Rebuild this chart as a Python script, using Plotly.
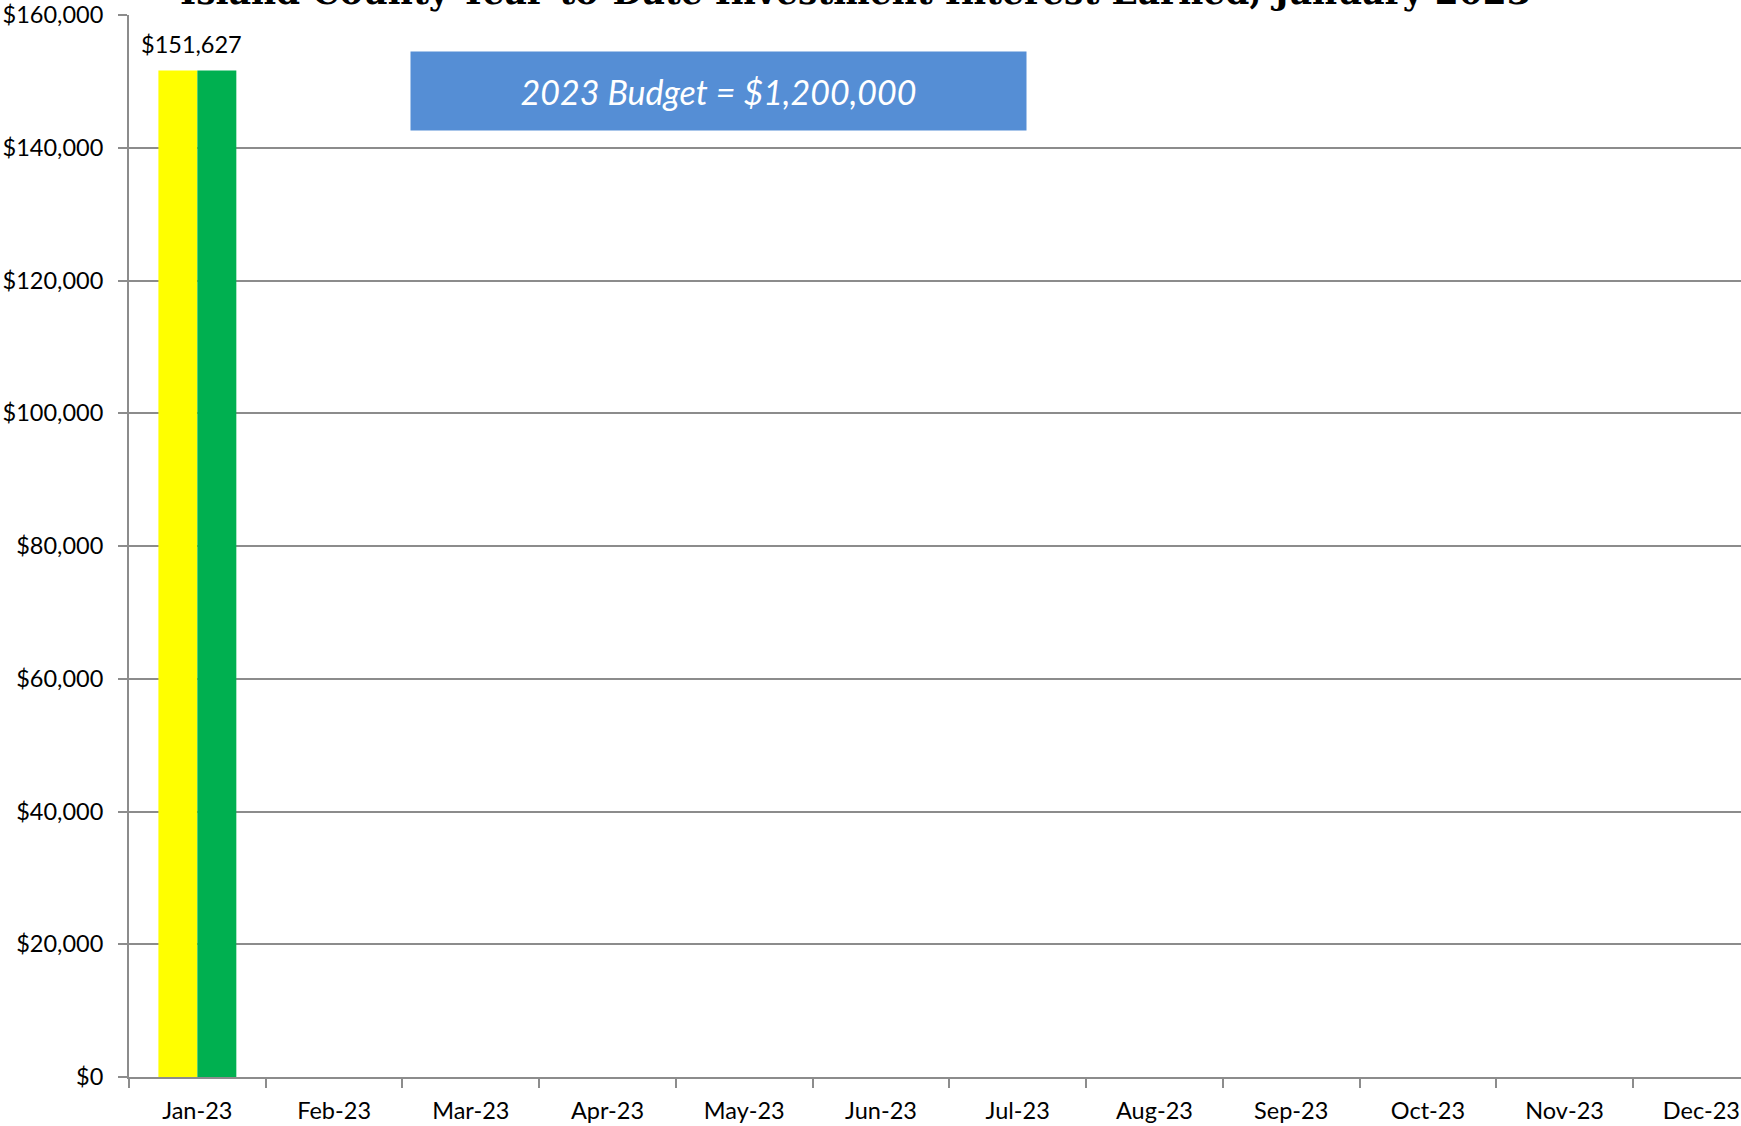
import plotly.graph_objects as go

months = ["Jan-23", "Feb-23", "Mar-23", "Apr-23", "May-23", "Jun-23",
          "Jul-23", "Aug-23", "Sep-23", "Oct-23", "Nov-23", "Dec-23"]
series_a = [151627, None, None, None, None, None, None, None, None, None, None, None]
series_b = [151627, None, None, None, None, None, None, None, None, None, None, None]
y_ticks = [0, 20000, 40000, 60000, 80000, 100000, 120000, 140000, 160000]
y_tick_text = ["$0", "$20,000", "$40,000", "$60,000", "$80,000", "$100,000",
               "$120,000", "$140,000", "$160,000"]
title_text = "Island County Year-to-Date Investment Interest Earned, January 2023"
budget_text = "2023 Budget = $1,200,000"
label_text = "$151,627"

W, H = 1741, 1126
L, R, T, B = 129, 0, 15, 49

fig = go.Figure()
fig.add_trace(go.Bar(x=list(range(12)), y=series_a, marker=dict(color="#FFFF00", line=dict(width=0)),
                     name="A", hoverinfo="skip"))
fig.add_trace(go.Bar(x=list(range(12)), y=series_b, marker=dict(color="#00B050", line=dict(width=0)),
                     name="B", hoverinfo="skip"))

grid = "#8C8C8C"
fig.update_layout(
    width=W, height=H,
    margin=dict(l=L, r=R, t=T, b=B, pad=0),
    paper_bgcolor="white", plot_bgcolor="white",
    barmode="group", bargap=0.43, bargroupgap=0,
    showlegend=False,
    font=dict(family="Lato, Noto Sans, sans-serif", size=23, color="black"),
)
fig.update_xaxes(
    type="linear", range=[-0.5, 11.29],
    tickmode="array", tickvals=list(range(12)), ticktext=months,
    showgrid=False, zeroline=False,
    showline=True, linecolor=grid, linewidth=2,
    ticks="", tickfont=dict(size=23.5), ticklabelstandoff=12,
)
fig.update_xaxes(minor=dict(tickmode="array", tickvals=[i + 0.5 for i in range(-1, 12)],
                            ticks="outside", ticklen=9, tickcolor=grid, tickwidth=2, showgrid=False))
fig.update_yaxes(
    range=[0, 160000], tickmode="array", tickvals=y_ticks, ticktext=y_tick_text,
    showgrid=True, gridcolor=grid, gridwidth=1.5,
    zeroline=False, showline=True, linecolor=grid, linewidth=2,
    ticks="outside", ticklen=9, tickcolor=grid, tickwidth=2,
    tickfont=dict(size=23.5), ticklabelstandoff=10,
)

fig.add_annotation(x=0, y=series_a[0], xref="x", yref="y", text=label_text,
                   showarrow=False, xshift=-6, yshift=27, yanchor="middle",
                   font=dict(size=23.5, color="black"))

fig.add_annotation(x=0.3657, y=0.9285, xref="paper", yref="paper", text="<i>" + budget_text + "</i>",
                   showarrow=False, width=613, height=76, bgcolor="#558ED5",
                   xanchor="center", yanchor="middle", align="center", valign="middle",
                   font=dict(size=34, color="white"))

fig.add_annotation(x=(855 - L) / (W - L - R), y=1, xref="paper", yref="paper",
                   text="<b>" + title_text + "</b>", showarrow=False,
                   xanchor="center", yanchor="middle", yshift=23,
                   font=dict(family="DejaVu Serif", size=34.5, color="black"))

fig.write_html("out.html",
               config={"displayModeBar": False},
               post_script="document.body.style.margin='0';document.body.style.padding='0';"
                           "document.documentElement.style.overflow='hidden';")
